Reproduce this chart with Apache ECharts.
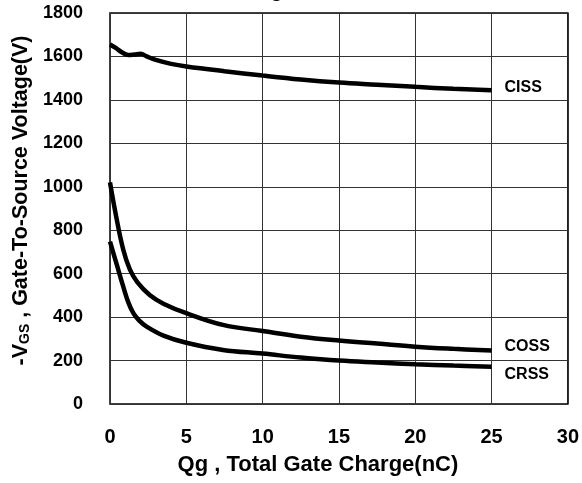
<!DOCTYPE html>
<html>
<head>
<meta charset="utf-8">
<script src="https://cdn.jsdelivr.net/npm/echarts@6/dist/echarts.min.js"></script>
<style>
  html, body { margin: 0; padding: 0; background: #fff; }
  #chart { width: 582px; height: 483px; }
</style>
</head>
<body>
<div id="chart"></div>
<script>
  // values: [Qg (nC), value]
  var cissData = [[0,1655],[0.4,1638],[0.8,1618],[1.2,1607],[1.6,1609],[2,1612],[2.4,1600],[3,1584],[4,1566],[5,1554],[7.5,1532],[10,1512],[12.5,1494],[15,1480],[17.5,1470],[20,1460],[22.5,1451],[25,1444]];
  var cossData = [[0,1020],[0.4,865],[0.87,710],[1.3,620],[1.8,560],[2.6,502],[3.5,462],[5,418],[7.4,364],[10,336],[12.5,310],[15,292],[17.5,278],[20,264],[22.5,254],[25,246]];
  var crssData = [[0,748],[0.45,640],[0.87,540],[1.2,468],[1.53,418],[1.9,385],[2.4,356],[3.5,315],[5,282],[7.4,249],[10,232],[12.5,214],[15,200],[17.5,191],[20,183],[22.5,177],[25,172]];
  var seriesNames = ['CISS', 'COSS', 'CRSS'];
  var xTicks = [0, 5, 10, 15, 20, 25, 30];
  var yTicks = [0, 200, 400, 600, 800, 1000, 1200, 1400, 1600, 1800];

  var font = 'Liberation Sans, Arial, sans-serif';
  var chart = echarts.init(document.getElementById('chart'));

  function curve(name, data, dy) {
    return {
      name: name,
      type: 'line',
      data: data,
      smooth: 0.4,
      symbol: 'none',
      lineStyle: { color: '#000', width: 4.5 },
      endLabel: {
        show: true,
        formatter: name,
        distance: 13,
        offset: [0, dy],
        color: '#000',
        fontFamily: font,
        fontWeight: 'bold',
        fontSize: 16
      }
    };
  }

  chart.setOption({
    animation: false,
    title: {
      text: 'Gate Charge',
      left: 170,
      top: -19,
      padding: 0,
      textStyle: { fontFamily: font, fontWeight: 'bold', fontSize: 21, color: '#000' }
    },
    grid: {
      left: 110, right: 13, top: 13, bottom: 79,
      show: true, borderColor: '#000', borderWidth: 1.5
    },
    xAxis: {
      type: 'value',
      min: xTicks[0], max: xTicks[xTicks.length - 1], interval: 5,
      name: 'Qg , Total Gate Charge(nC)',
      nameLocation: 'middle',
      nameGap: 50,
      nameTextStyle: {
        fontFamily: font, fontWeight: 'bold', fontSize: 22, color: '#000',
        padding: [0, 42, 0, 0]
      },
      axisLine: { show: false },
      axisTick: { show: false },
      axisLabel: {
        margin: 23, color: '#000', fontFamily: font, fontWeight: 'bold', fontSize: 20,
        formatter: function (v) { return String(v); }
      },
      splitLine: { lineStyle: { color: '#333', width: 1 } }
    },
    yAxis: {
      type: 'value',
      min: yTicks[0], max: yTicks[yTicks.length - 1], interval: 200,
      name: '{a|-V}{b|GS}{a| , Gate-To-Source Voltage(V)}',
      nameLocation: 'middle',
      nameGap: 74,
      nameTextStyle: {
        padding: [0, 0, 0, 16],
        rich: {
          a: { fontFamily: font, fontWeight: 'bold', fontSize: 21.5, color: '#000' },
          b: { fontFamily: font, fontWeight: 'bold', fontSize: 14, color: '#000', verticalAlign: 'bottom', padding: [7, 0, 0, 0] }
        }
      },
      axisLine: { show: false },
      axisTick: { show: false },
      axisLabel: {
        margin: 27, color: '#000', fontFamily: font, fontWeight: 'bold', fontSize: 18,
        formatter: function (v) { return String(v); }
      },
      splitLine: { lineStyle: { color: '#333', width: 1 } }
    },
    series: [
      curve(seriesNames[0], cissData, -3),
      curve(seriesNames[1], cossData, -4),
      curve(seriesNames[2], crssData, 8)
    ]
  });
</script>
</body>
</html>
